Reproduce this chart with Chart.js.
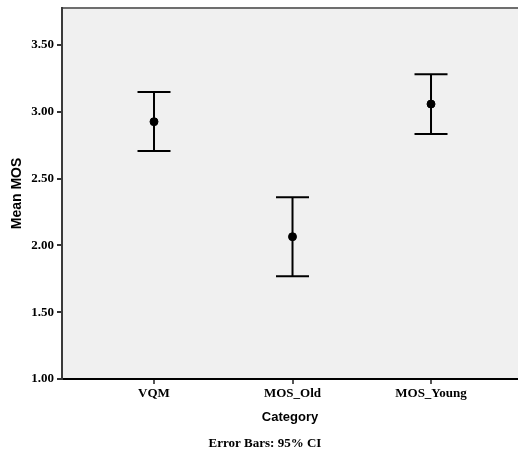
<!DOCTYPE html>
<html>
<head>
<meta charset="utf-8">
<script src="https://cdn.jsdelivr.net/npm/chart.js@4/dist/chart.umd.min.js"></script>
<style>
  html, body { margin: 0; padding: 0; background: #fff; }
  #wrap { width: 518px; height: 455px; }
</style>
</head>
<body>
<div id="wrap"><canvas id="errChart" width="518" height="455"></canvas></div>
<script>
// data
const categories = ['VQM', 'MOS_Old', 'MOS_Young'];
const means = [2.926, 2.065, 3.058];
const lowerCI = [2.707, 1.769, 2.834];
const upperCI = [3.148, 2.360, 3.281];
const yTicks = [1.00, 1.50, 2.00, 2.50, 3.00, 3.50];

const serifBold = { family: '"Liberation Serif", "Times New Roman", serif', size: 13, weight: 'bold' };

// plot panel background + top frame line
const panelPlugin = {
    id: 'panel',
    beforeDraw(chart) {
        const { ctx, chartArea: a } = chart;
        ctx.save();
        ctx.fillStyle = '#f0f0f0';
        ctx.fillRect(a.left, a.top, a.right - a.left, a.bottom - a.top);
        ctx.strokeStyle = '#6e6e6e';
        ctx.lineWidth = 2;
        ctx.beginPath();
        ctx.moveTo(a.left, a.top);
        ctx.lineTo(a.right, a.top);
        ctx.stroke();
        ctx.restore();
    }
};

// 95% CI whiskers, drawn through the chart's own scales
const errorBarPlugin = {
    id: 'errorBars',
    beforeDatasetsDraw(chart) {
        const { ctx, scales: { x, y } } = chart;
        const capHalf = 16.5;
        ctx.save();
        ctx.strokeStyle = '#000';
        ctx.lineWidth = 2;
        categories.forEach((c, i) => {
            const px = x.getPixelForValue(i + 1);
            const top = y.getPixelForValue(upperCI[i]);
            const bot = y.getPixelForValue(lowerCI[i]);
            ctx.beginPath();
            ctx.moveTo(px, top);
            ctx.lineTo(px, bot);
            ctx.moveTo(px - capHalf, top);
            ctx.lineTo(px + capHalf, top);
            ctx.moveTo(px - capHalf, bot);
            ctx.lineTo(px + capHalf, bot);
            ctx.stroke();
        });
        ctx.restore();
    }
};

// footnote under the axis title
const footnotePlugin = {
    id: 'footnote',
    afterDraw(chart) {
        const ctx = chart.ctx;
        ctx.save();
        ctx.font = 'bold 13px "Liberation Serif", "Times New Roman", serif';
        ctx.fillStyle = '#000';
        ctx.textAlign = 'center';
        ctx.textBaseline = 'middle';
        ctx.fillText('Error Bars: 95% CI', 265, 444);
        ctx.restore();
    }
};

new Chart(document.getElementById('errChart').getContext('2d'), {
    type: 'scatter',
    data: {
        datasets: [{
            label: 'Mean MOS',
            data: means.map((m, i) => ({ x: i + 1, y: m })),
            backgroundColor: '#000',
            borderColor: '#000',
            pointRadius: 4,
            pointHoverRadius: 4
        }]
    },
    options: {
        responsive: false,
        animation: false,
        layout: { autoPadding: false, padding: { top: 8, left: 0, right: 0, bottom: 0 } },
        plugins: {
            legend: { display: false },
            tooltip: { enabled: false }
        },
        scales: {
            x: {
                type: 'linear',
                min: 0.3357,
                max: 3.628,
                afterBuildTicks: scale => {
                    scale.ticks = categories.map((c, i) => ({ value: i + 1 }));
                },
                afterFit: scale => {
                    scale.height = 76;
                    scale.paddingLeft = 0;
                    scale.paddingRight = 0;
                },
                ticks: {
                    color: '#000',
                    font: serifBold,
                    padding: 2,
                    maxRotation: 0,
                    callback: (v) => categories[Math.round(v) - 1]
                },
                grid: {
                    drawOnChartArea: false,
                    drawTicks: true,
                    tickLength: 5,
                    color: '#555',
                    lineWidth: 2
                },
                border: { display: true, color: '#000', width: 2 },
                title: {
                    display: true,
                    text: 'Category',
                    color: '#000',
                    font: { family: '"Liberation Sans", Arial, sans-serif', size: 13, weight: 'bold' },
                    padding: { top: 0, bottom: 30 }
                }
            },
            y: {
                min: 1,
                max: 3.777,
                afterBuildTicks: scale => {
                    scale.ticks = yTicks.map(v => ({ value: v }));
                },
                afterFit: scale => {
                    scale.width = 62;
                    scale.paddingTop = 0;
                    scale.paddingBottom = 0;
                },
                ticks: {
                    color: '#000',
                    font: serifBold,
                    padding: 3,
                    callback: v => v.toFixed(2)
                },
                grid: {
                    drawOnChartArea: false,
                    drawTicks: true,
                    tickLength: 5,
                    color: '#333',
                    lineWidth: 2
                },
                border: { display: true, color: '#3a3a3a', width: 2 },
                title: {
                    display: true,
                    text: 'Mean MOS',
                    color: '#000',
                    font: { family: '"Liberation Sans", Arial, sans-serif', size: 14, weight: 'bold' },
                    padding: { top: 9, bottom: 0 }
                }
            }
        }
    },
    plugins: [panelPlugin, errorBarPlugin, footnotePlugin]
});
</script>
</body>
</html>
